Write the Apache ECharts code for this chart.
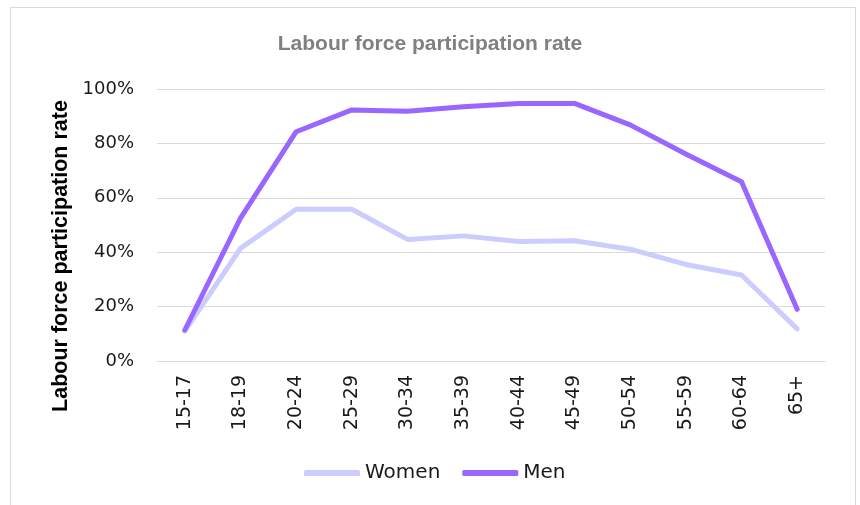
<!DOCTYPE html>
<html>
<head>
<meta charset="utf-8">
<script src="https://cdn.jsdelivr.net/npm/echarts@6/dist/echarts.min.js"></script>
<style>
  html, body { margin: 0; padding: 0; background: #ffffff; }
  #chart { width: 860px; height: 505px; }
</style>
</head>
<body>
<div id="chart"></div>
<script>
const categories = ['15-17', '18-19', '20-24', '25-29', '30-34', '35-39', '40-44', '45-49', '50-54', '55-59', '60-64', '65+'];
const women = [11, 41.4, 55.8, 55.8, 44.7, 46, 43.9, 44.2, 41.1, 35.5, 31.6, 11.8];
const men = [11.4, 52.5, 84.3, 92.3, 91.8, 93.5, 94.7, 94.7, 86.8, 76.1, 65.9, 19];
const yTicks = [0, 20, 40, 60, 80, 100];

const chart = echarts.init(document.getElementById('chart'), null, { renderer: 'canvas' });
chart.setOption({
  animation: false,
  backgroundColor: '#ffffff',
  graphic: [{
    type: 'rect',
    shape: { x: 10.5, y: 7.5, width: 845, height: 520 },
    style: { fill: 'none', stroke: '#d9d9d9', lineWidth: 1 },
    silent: true
  }],
  title: {
    text: 'Labour force participation rate',
    left: 'center',
    top: 29,
    textStyle: { fontFamily: 'Liberation Sans', fontWeight: 'bold', fontSize: 21, color: '#808080' }
  },
  legend: {
    data: ['Women', 'Men'],
    left: 299,
    top: 458,
    icon: 'roundRect',
    itemWidth: 56,
    itemHeight: 6,
    itemGap: 22,
    textStyle: { fontFamily: 'DejaVu Sans', fontSize: 20, color: '#1a1a1a', lineHeight: 20 }
  },
  grid: { left: 157, right: 35, top: 89, bottom: 144, containLabel: false },
  xAxis: {
    type: 'category',
    data: categories,
    boundaryGap: true,
    axisLine: { show: true, lineStyle: { color: '#d9d9d9', width: 1 } },
    axisTick: { show: false },
    axisLabel: {
      interval: 0,
      rotate: 90,
      margin: 14,
      fontFamily: 'DejaVu Sans',
      fontSize: 19,
      color: '#1a1a1a'
    }
  },
  yAxis: {
    type: 'value',
    min: yTicks[0],
    max: yTicks[yTicks.length - 1],
    interval: 20,
    name: 'Labour force participation rate',
    nameLocation: 'middle',
    nameGap: 82,
    nameTextStyle: {
      fontFamily: 'Liberation Sans',
      fontWeight: 'bold',
      fontSize: 21.5,
      color: '#000000',
      padding: [0, 62, 0, 0]
    },
    axisLine: { show: false },
    axisTick: { show: false },
    splitLine: { lineStyle: { color: '#d9d9d9', width: 1 } },
    axisLabel: {
      margin: 23,
      formatter: '{value}%',
      fontFamily: 'DejaVu Sans',
      fontSize: 18,
      color: '#1a1a1a'
    }
  },
  series: [
    {
      name: 'Women',
      type: 'line',
      data: women,
      symbol: 'none',
      showSymbol: false,
      itemStyle: { color: '#ccccff' },
      lineStyle: { color: '#ccccff', width: 5, cap: 'round', join: 'round' }
    },
    {
      name: 'Men',
      type: 'line',
      data: men,
      symbol: 'none',
      showSymbol: false,
      itemStyle: { color: '#9966ff' },
      lineStyle: { color: '#9966ff', width: 5, cap: 'round', join: 'round' }
    }
  ]
});
</script>
</body>
</html>
